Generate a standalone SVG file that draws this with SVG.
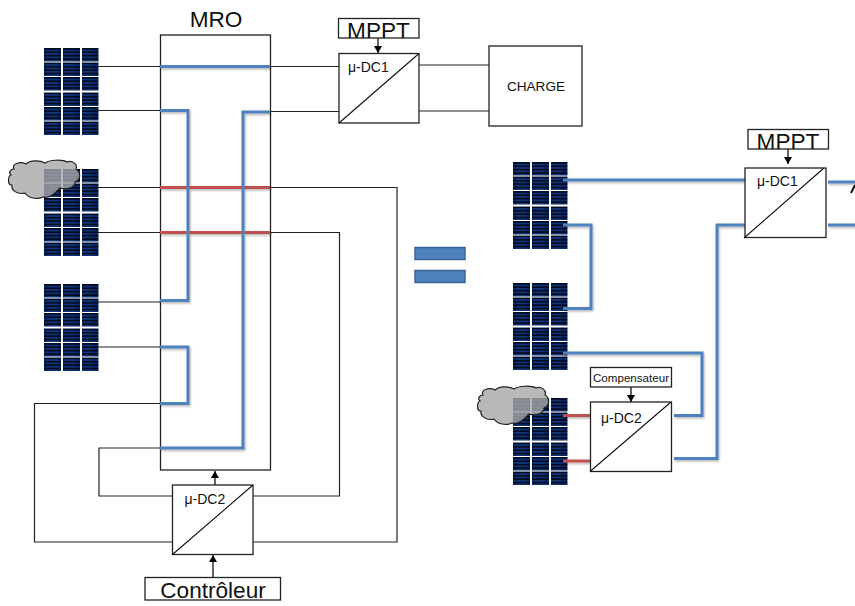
<svg xmlns="http://www.w3.org/2000/svg" xmlns:xlink="http://www.w3.org/1999/xlink" width="855" height="606" viewBox="0 0 855 606">
<style>
text{font-family:"Liberation Sans",Arial,sans-serif;fill:#111}
.box{fill:#fff;stroke:#222;stroke-width:1.3}
.diag{fill:none;stroke:#111;stroke-width:1.1}
.w{fill:none;stroke:#222;stroke-width:1.2}
.b{fill:none;stroke:#4f81bd;stroke-width:3;stroke-linejoin:miter}
.r{fill:none;stroke:#c0504d;stroke-width:3}
.a{fill:none;stroke:#111;stroke-width:1.3}
.lbl{font-size:22.6px;text-anchor:middle}
.dc{font-size:14px}
.eq{fill:#4f81bd;stroke:#3a6595;stroke-width:1.5}
.cloud{fill:#a8a8a8;fill-opacity:.8;stroke:#222;stroke-width:1.2}
</style>
<defs>
<pattern id="st" width="17" height="3.4" patternUnits="userSpaceOnUse">
<rect width="17" height="3.4" fill="#0a2a6a"/>
<rect y="0" width="17" height="1.7" fill="#030b24"/>
<rect x="3" y="2.200" width="11" height=".7" fill="#17448f"/>
</pattern>
<g id="row"><rect width="17" height="13.5" fill="url(#st)"/><rect x="19" width="17" height="13.5" fill="url(#st)"/><rect x="38" width="16.5" height="13.5" fill="url(#st)"/></g>
<g id="panel"><use xlink:href="#row"/><use xlink:href="#row" y="14.5"/><use xlink:href="#row" y="29"/><use xlink:href="#row" y="44.5"/><use xlink:href="#row" y="59"/><use xlink:href="#row" y="73.5"/></g>
<path id="cl" d="M14 169C11 164 20 161 26 164C30 160 40 160 45 163C49 160 62 159 67 162C72 160 78 164 76 169C81 172 81 180 75 182C75 188 66 190 60 188C55 194 48 199 43 197C37 200 28 198 25 193C17 195 11 190 12 185C7 185 8 176 11 175C8 172 11 169 14 169Z"/>
<marker id="ah" markerUnits="userSpaceOnUse" markerWidth="9" markerHeight="9" refX="7" refY="4" orient="auto"><path d="M0 0L7 4L0 8Z" fill="#000"/></marker>
<filter id="sh" x="-5%" y="-5%" width="110%" height="110%"><feDropShadow dx="1" dy="1.5" stdDeviation="1" flood-color="#000" flood-opacity=".3"/></filter>
</defs>
<g id="panel-l1"><use xlink:href="#panel" x="44" y="48"/></g>
<g id="panel-l2"><use xlink:href="#panel" x="44" y="169"/></g>
<g id="panel-l3"><use xlink:href="#panel" x="44" y="284"/></g>
<g id="panel-r1"><use xlink:href="#panel" x="513" y="162"/></g>
<g id="panel-r2"><use xlink:href="#panel" x="513" y="283"/></g>
<g id="panel-r3"><use xlink:href="#panel" x="513" y="398"/></g>
<g id="mro"><rect class="box" x="160.5" y="35" width="110" height="435"/><text x="216" y="27" class="lbl">MRO</text></g>
<g id="connectors">
<path class="w" d="M98 66.500H160M270 66.500H339M98 110.500H160M270 111.500H339M419 65H489M419 111H489M98 187.500H160M98 232.500H160M98 302H160M98 347H160"/>
<path class="w" d="M270 187.500H397V542H253M270 232.500H339.500V496H253M160 403.500H34.500V542H172M160 448H99V496H172"/>
<g filter="url(#sh)">
<path class="r" d="M160 187.500H270M160 232.500H270M563 415.500H590M563 461H590"/>
<path class="b" d="M160 66.500H270M160 110.500H188V300.500H160M270 112H243V448H160M160 347H188V403.500H160"/>
<path class="b" d="M563 180H745M563 225H591V308.500H563M563 353H702V415.500H674M674 458.500H717V225H745M828 182H855M828 225H855"/>
</g>
<path fill="none" stroke="#111" stroke-width="2" d="M851 193L855 185"/>
<path class="a" marker-end="url(#ah)" d="M378 38V53"/>
<path class="a" marker-end="url(#ah)" d="M215 485V471"/>
<path class="a" marker-end="url(#ah)" d="M213 577V555"/>
<path class="a" marker-end="url(#ah)" d="M788 149V164"/>
<path class="a" marker-end="url(#ah)" d="M631 387V402"/>
</g>
<g id="mppt1"><rect class="box" x="338.500" y="18.500" width="80.500" height="19.500"/><text x="378.500" y="37.500" class="lbl">MPPT</text></g>
<g id="dc1-left"><rect class="box" x="339" y="53.500" width="80" height="69.500"/><path class="diag" d="M339 123L419 53.500"/><text x="348" y="72" class="dc">μ-DC1</text></g>
<g id="charge"><rect class="box" x="489" y="46" width="93" height="80"/><text x="536" y="90.500" font-size="13.600" text-anchor="middle">CHARGE</text></g>
<g id="dc2-left"><rect class="box" x="172.500" y="485" width="80.500" height="69.500"/><path class="diag" d="M172.500 554.500L253 485"/><text x="184.500" y="504" class="dc">μ-DC2</text></g>
<g id="controleur"><rect class="box" x="145" y="577.500" width="135.500" height="22.500"/><text x="213" y="598" class="lbl">Contrôleur</text></g>
<g id="equals"><rect class="eq" x="415" y="247.500" width="50" height="12"/><rect class="eq" x="415" y="270.500" width="50" height="12"/></g>
<g id="mppt2"><rect class="box" x="748" y="129.500" width="80.500" height="19.500"/><text x="788" y="148.500" class="lbl">MPPT</text></g>
<g id="dc1-right"><rect class="box" x="745" y="168" width="81" height="69.500"/><path class="diag" d="M744 238L824 168"/><text x="757" y="186" class="dc">μ-DC1</text></g>
<g id="compensateur"><rect class="box" x="590.500" y="367.500" width="81" height="19.500"/><text x="631" y="382" font-size="11.600" text-anchor="middle">Compensateur</text></g>
<g id="dc2-right"><rect class="box" x="590.500" y="402" width="81" height="69.500"/><path class="diag" d="M590 471.500L671 402"/><text x="601" y="423" class="dc">μ-DC2</text></g>
<g id="cloud-l"><use xlink:href="#cl" class="cloud"/></g>
<g id="cloud-r"><use xlink:href="#cl" class="cloud" x="469" y="226"/></g>
</svg>
